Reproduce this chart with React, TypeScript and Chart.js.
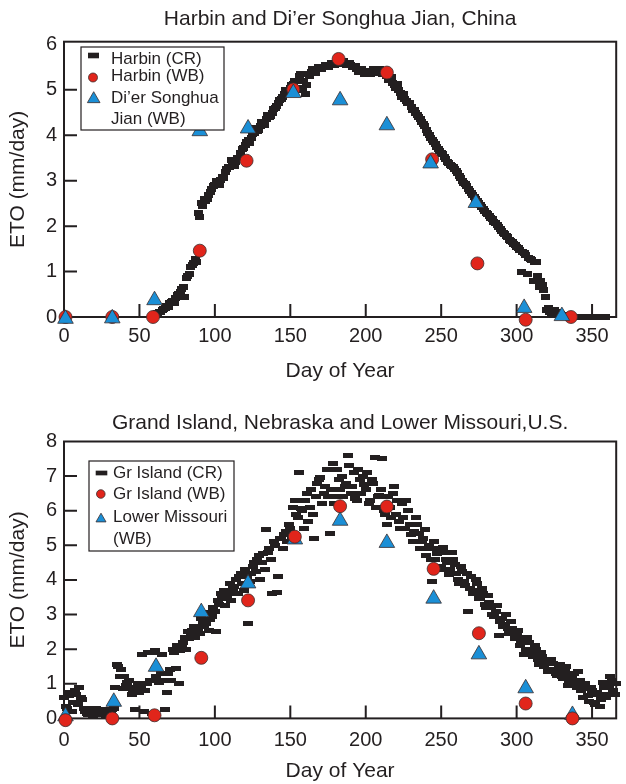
import { useEffect, useRef } from 'react';
import { Chart, registerables } from 'chart.js';

Chart.register(...registerables);

const FONT = '"Liberation Sans", Arial, Helvetica, sans-serif';
const INK = '#231f20';
const RED = '#e1251b';
const BLUE = '#1b8fd6';
const EDGE = '#3b2d2d';

// ---------- Top panel: Harbin and Di'er Songhua Jian ----------
const topTitle = 'Harbin and Di’er Songhua Jian, China';
// Harbin (CR), even days 60..358
const harbinCREvenStart = 60;
const harbinCREven = [
  0.02, 0.08, 0.12, 0.18, 0.25, 0.3, 0.35, 0.42, 0.5, 0.62,
  0.45, 0.9, 1.1, 1.18, 1.22, 2.2, 2.45, 2.55, 2.68, 2.82,
  2.9, 2.95, 3.02, 3.05, 3.25, 3.3, 3.38, 3.42, 3.5, 3.7,
  3.78, 3.9, 3.95, 4.05, 4.1, 4.2, 4.28, 4.35, 4.4, 4.48,
  4.6, 4.7, 4.8, 4.9, 5.0, 5.05, 5.12, 5.2, 5.3, 5.0,
  4.9, 5.35, 5.4, 5.42, 5.45, 5.48, 5.5, 5.52, 5.55, 5.58,
  5.6, 5.62, 5.62, 5.6, 5.58, 5.55, 5.5, 5.46, 5.42, 5.4,
  5.38, 5.38, 5.4, 5.42, 5.42, 5.4, 5.38, 5.3, 5.25, 5.15,
  5.05, 5.0, 4.85, 4.8, 4.72, 4.62, 4.55, 4.45, 4.35, 4.25,
  4.12, 4.0, 3.9, 3.8, 3.7, 3.62, 3.52, 3.42, 3.35, 3.3,
  3.22, 3.1, 3.0, 2.92, 2.82, 2.72, 2.64, 2.56, 2.46, 2.38,
  2.3, 2.22, 2.15, 2.06, 1.98, 1.9, 1.82, 1.75, 1.68, 1.6,
  1.55, 1.48, 1.42, 1.36, 1.3, 1.25, 1.22, 0.9, 0.8, 0.6,
  0.15, 0.1, 0.12, 0.05, 0.08, 0.02, 0.04, 0.0, 0.0, 0.0,
  0.0, 0.0, 0.0, 0.0, 0.0, 0.0, 0.0, 0.0, 0.0, 0.0,
];
// Harbin (CR), odd days 61..359
const harbinCROddStart = 61;
const harbinCROdd = [
  0.05, 0.1, 0.15, 0.2, 0.22, 0.32, 0.3, 0.48, 0.55, 0.66,
  0.85, 0.95, 1.15, 1.28, 2.3, 2.5, 2.6, 2.6, 2.75, 2.88,
  3.0, 2.9, 3.08, 3.2, 3.3, 3.45, 3.32, 3.5, 3.6, 3.72,
  3.85, 3.82, 4.02, 4.15, 4.12, 4.3, 4.22, 4.45, 4.42, 4.58,
  4.65, 4.78, 4.85, 5.0, 4.98, 5.1, 5.2, 5.05, 5.35, 5.2,
  5.1, 5.3, 5.45, 5.38, 5.5, 5.45, 5.55, 5.5, 5.6, 5.55,
  5.65, 5.58, 5.64, 5.55, 5.6, 5.5, 5.52, 5.4, 5.45, 5.35,
  5.42, 5.35, 5.45, 5.38, 5.45, 5.35, 5.38, 5.22, 5.28, 5.1,
  5.12, 4.92, 4.9, 4.75, 4.7, 4.55, 4.5, 4.4, 4.3, 4.2,
  4.05, 3.95, 3.85, 3.75, 3.65, 3.58, 3.48, 3.38, 3.32, 3.25,
  3.18, 3.05, 2.96, 2.88, 2.78, 2.68, 2.6, 2.5, 2.42, 2.34,
  2.26, 2.18, 2.1, 2.02, 1.94, 1.86, 1.78, 1.7, 1.64, 1.58,
  1.52, 1.0, 1.4, 0.95, 1.28, 0.8, 1.22, 0.65, 0.7, 0.45,
  0.2, 0.08, 0.15, 0.1, 0.06, 0.03, 0.02, 0.01, 0.0, 0.0,
  0.0, 0.0, 0.0, 0.0, 0.0, 0.0, 0.0, 0.0, 0.0, 0.0,
];
const harbinWBDays = [1, 32, 59, 90, 121, 152, 182, 214, 244, 274, 306, 336];
const harbinWB = [0, 0, 0, 1.46, 3.44, 5.01, 5.68, 5.38, 3.47, 1.18, -0.06, 0];
const dierWBDays = [1, 32, 60, 90, 122, 152, 183, 214, 243, 273, 305, 330];
const dierWB = [-0.04, -0.03, 0.37, 4.09, 4.15, 4.93, 4.77, 4.22, 3.38, 2.51, 0.2, 0.02];

// ---------- Bottom panel: Grand Island and Lower Missouri ----------
const bottomTitle = 'Grand Island, Nebraska and Lower Missouri,U.S.';
// Gr Island (CR), even days 0..366
const grIslandCREvenStart = 0;
const grIslandCREven = [
  0.6, 0.3, 0.75, 0.45, 0.7, 0.9, 0.55, 0.2, 0.1, 0.3,
  0.15, 0.2, 0.1, 0.2, 0.05, 0.15, 0.25, 0.9, 1.5, 1.4,
  1.2, 1.05, 0.85, 0.8, 0.9, 0.75, 1.85, 0.8, 1.9, 0.15,
  1.95, 1.1, 1.3, 1.1, 0.75, 1.4, 2.0, 1.45, 1.0, 2.1,
  2.35, 2.5, 2.4, 2.65, 2.6, 2.45, 2.8, 2.75, 2.55, 2.95,
  3.1, 3.4, 3.6, 3.7, 3.55, 3.9, 3.75, 4.0, 4.1, 3.9,
  4.3, 2.75, 4.2, 4.5, 4.6, 4.0, 4.75, 5.45, 4.9, 3.6,
  5.0, 4.1, 5.2, 5.3, 5.1, 5.5, 6.1, 5.9, 7.1, 6.0,
  6.3, 5.7, 6.6, 5.2, 6.8, 6.95, 6.5, 7.2, 5.35, 7.35,
  6.4, 6.9, 7.0, 6.7, 7.6, 6.5, 7.1, 6.3, 6.9, 7.0,
  6.6, 6.2, 6.9, 7.55, 6.4, 6.6, 6.0, 5.6, 6.1, 6.5,
  5.9, 5.7, 6.2, 5.5, 6.0, 5.3, 5.4, 5.6, 4.9, 5.2,
  4.7, 5.0, 3.95, 4.6, 4.9, 4.4, 4.8, 4.5, 4.3, 4.6,
  4.2, 3.9, 4.25, 3.85, 3.1, 4.1, 3.7, 3.9, 3.5, 3.6,
  3.2, 3.35, 3.0, 3.1, 2.4, 2.9, 2.7, 2.6, 2.8, 2.5,
  2.4, 2.1, 2.3, 2.0, 2.2, 1.9, 2.1, 1.7, 1.9, 1.5,
  1.7, 1.4, 1.6, 1.3, 1.45, 1.2, 1.35, 0.95, 1.1, 1.3,
  0.9, 1.1, 0.6, 0.85, 0.5, 0.8, 0.4, 0.7, 0.55, 0.9,
  0.7, 1.2, 0.8, 1.0,
];
// Gr Island (CR), odd days 1..365
const grIslandCROddStart = 1;
const grIslandCROdd = [
  0.35, 0.65, 0.2, 0.8, 0.4, 0.6, 0.3, 0.15, 0.25, 0.05,
  0.3, 0.1, 0.25, 0.1, 0.2, 0.1, 0.3, 1.55, 1.2, 0.85,
  0.95, 1.1, 0.7, 0.25, 1.0, 0.9, 0.2, 1.0, 1.1, 1.9,
  1.2, 1.05, 1.85, 0.25, 1.3, 1.1, 1.9, 2.1, 1.95, 2.2,
  2.0, 2.3, 2.55, 2.35, 2.5, 2.9, 2.65, 3.05, 2.85, 3.2,
  2.5, 3.3, 3.45, 3.25, 3.6, 3.4, 3.8, 3.6, 4.2, 3.7,
  4.1, 3.95, 4.4, 4.25, 4.7, 4.5, 4.3, 4.8, 4.6, 5.1,
  3.65, 5.2, 4.9, 5.4, 5.6, 5.25, 6.3, 5.8, 6.05, 5.5,
  6.5, 6.1, 5.9, 6.4, 6.9, 6.2, 6.7, 6.4, 6.6, 6.2,
  7.2, 6.6, 6.4, 6.8, 7.3, 6.7, 6.35, 7.2, 6.5, 6.75,
  7.1, 6.3, 6.8, 6.1, 6.45, 7.5, 5.9, 6.4, 5.8, 6.7,
  6.3, 5.5, 5.8, 6.3, 5.6, 5.1, 5.8, 5.35, 5.1, 5.45,
  4.9, 4.6, 5.1, 4.75, 4.3, 4.95, 4.6, 4.15, 4.8, 4.45,
  4.0, 4.4, 3.95, 4.2, 3.75, 3.6, 4.0, 3.45, 3.75, 3.3,
  3.55, 3.2, 2.95, 3.25, 2.8, 2.65, 3.0, 2.45, 2.6, 2.3,
  2.55, 2.25, 1.85, 2.35, 2.0, 1.8, 2.0, 1.55, 1.8, 1.6,
  1.35, 1.7, 1.4, 1.25, 1.55, 1.15, 1.5, 1.0, 1.25, 1.05,
  1.35, 0.8, 1.0, 0.65, 0.9, 0.45, 0.75, 0.35, 1.05, 0.6,
  0.95, 1.1, 0.7,
];
const grIslandWBDays = [1, 32, 60, 91, 122, 153, 183, 214, 245, 275, 306, 337];
const grIslandWB = [-0.05, 0, 0.09, 1.75, 3.41, 5.25, 6.13, 6.12, 4.32, 2.46, 0.43, 0];
const lowerMissouriWBDays = [1, 33, 61, 91, 122, 153, 183, 214, 245, 275, 306, 337];
const lowerMissouriWB = [0.06, 0.48, 1.49, 3.07, 3.9, 5.17, 5.71, 5.07, 3.46, 1.85, 0.87, 0.1];

const xTickStep = 50;
const xMax = 366;
const dayStep = 2;

type Marker = 'dash' | 'circle' | 'triangle';
interface LegendRow { marker?: Marker; mx?: number; my?: number; text: string; ty: number }
interface LegendSpec {
  box: [number, number, number, number];
  textX: number;
  dash: [number, number];
  circleR: number;
  triR: number;
  rows: LegendRow[];
}
interface Series { start: number; values: number[] }
interface PanelSpec {
  title: string;
  titlePad: { top: number; bottom: number };
  yMax: number;
  yTop: number;
  xScaleHeight: number;
  xTickPad: number;
  xTitlePad: number;
  cr: Series[];
  dash: [number, number];
  circles: { days: number[]; values: number[] };
  triangles: { days: number[]; values: number[] };
  trianglesOnTop: boolean;
  legend: LegendSpec;
}

function makeDash(w: number, h: number) {
  const c = document.createElement('canvas');
  c.width = w;
  c.height = h;
  const g = c.getContext('2d')!;
  g.fillStyle = INK;
  g.fillRect(0, 0, w, h);
  return c;
}

function drawTri(ctx: CanvasRenderingContext2D, cx: number, cy: number, r: number) {
  ctx.beginPath();
  for (let k = 0; k < 3; k++) {
    const a = -Math.PI / 2 + (k * 2 * Math.PI) / 3;
    const px = cx + r * Math.cos(a);
    const py = cy + r * Math.sin(a);
    if (k === 0) ctx.moveTo(px, py);
    else ctx.lineTo(px, py);
  }
  ctx.closePath();
  ctx.fillStyle = BLUE;
  ctx.fill();
  ctx.strokeStyle = EDGE;
  ctx.lineWidth = 0.8;
  ctx.stroke();
}

const framePlugin = {
  id: 'frame',
  beforeDatasetsDraw(chart: any) {
    const { ctx, chartArea } = chart;
    const { left, right, top, bottom } = chartArea;
    const xs = chart.scales.x;
    const ys = chart.scales.y;
    ctx.save();
    ctx.strokeStyle = INK;
    ctx.lineWidth = 2;
    ctx.strokeRect(left, top, right - left, bottom - top);
    ctx.beginPath();
    xs.ticks.forEach((t: any) => {
      if (t.value <= 0) return;
      const x = xs.getPixelForValue(t.value);
      ctx.moveTo(x, bottom);
      ctx.lineTo(x, bottom - 13);
    });
    ys.ticks.forEach((t: any) => {
      if (t.value <= 0 || t.value >= ys.max - 0.2) return;
      const y = ys.getPixelForValue(t.value);
      ctx.moveTo(left, y);
      ctx.lineTo(left + 13, y);
    });
    ctx.stroke();
    ctx.restore();
  },
};

const legendBoxPlugin = {
  id: 'legendBox',
  afterDraw(chart: any, _args: any, opts: any) {
    const spec: LegendSpec = opts.spec;
    if (!spec) return;
    const { ctx } = chart;
    ctx.save();
    const [bx, by, bw, bh] = spec.box;
    ctx.fillStyle = '#ffffff';
    ctx.fillRect(bx, by, bw, bh);
    ctx.strokeStyle = INK;
    ctx.lineWidth = 1.2;
    ctx.strokeRect(bx, by, bw, bh);
    spec.rows.forEach((row) => {
      if (row.marker === 'dash') {
        ctx.fillStyle = INK;
        ctx.fillRect(row.mx! - spec.dash[0] / 2, row.my! - spec.dash[1] / 2, spec.dash[0], spec.dash[1]);
      } else if (row.marker === 'circle') {
        ctx.beginPath();
        ctx.arc(row.mx!, row.my!, spec.circleR, 0, Math.PI * 2);
        ctx.fillStyle = RED;
        ctx.fill();
        ctx.strokeStyle = EDGE;
        ctx.lineWidth = 0.8;
        ctx.stroke();
      } else if (row.marker === 'triangle') {
        drawTri(ctx, row.mx!, row.my!, spec.triR);
      }
      ctx.fillStyle = INK;
      ctx.font = `17px ${FONT}`;
      ctx.textAlign = 'left';
      ctx.textBaseline = 'middle';
      ctx.fillText(row.text, spec.textX, row.ty);
    });
    ctx.restore();
  },
};

function buildConfig(p: PanelSpec): any {
  const crPoints = p.cr.flatMap((s) => s.values.map((v, i) => ({ x: s.start + i * dayStep, y: v })));
  const circlePoints = p.circles.days.map((d, i) => ({ x: d, y: p.circles.values[i] }));
  const triPoints = p.triangles.days.map((d, i) => ({ x: d, y: p.triangles.values[i] }));
  const circleDs = {
    label: 'WB circle',
    data: circlePoints,
    pointStyle: 'circle',
    pointRadius: 6.5,
    backgroundColor: RED,
    borderColor: EDGE,
    borderWidth: 0.8,
    clip: false,
  };
  const triDs = {
    label: 'WB triangle',
    data: triPoints,
    pointStyle: 'triangle',
    pointRadius: 9,
    backgroundColor: BLUE,
    borderColor: EDGE,
    borderWidth: 0.8,
    clip: false,
  };
  const crDs = {
    label: 'CR',
    data: crPoints,
    pointStyle: makeDash(p.dash[0], p.dash[1]),
    pointRadius: 4,
    backgroundColor: INK,
    borderColor: INK,
    clip: false,
  };
  const datasets = p.trianglesOnTop ? [triDs, circleDs, crDs] : [circleDs, triDs, crDs];
  const tickFont = { family: FONT, size: 20 };
  const titleFont = { family: FONT, size: 21, weight: 'normal' as const };
  return {
    type: 'scatter',
    data: { datasets },
    plugins: [framePlugin, legendBoxPlugin],
    options: {
      responsive: false,
      animation: false,
      events: [],
      layout: { padding: { left: 0, right: 6, top: 0, bottom: 0 } },
      plugins: {
        legend: { display: false },
        tooltip: { enabled: false },
        title: {
          display: true,
          fullSize: false,
          text: p.title,
          color: INK,
          font: titleFont,
          padding: p.titlePad,
        },
        legendBox: { spec: p.legend },
      },
      scales: {
        x: {
          type: 'linear',
          min: 0,
          max: xMax,
          grid: { display: false, drawTicks: false },
          border: { display: false },
          ticks: {
            stepSize: xTickStep,
            includeBounds: false,
            color: INK,
            font: tickFont,
            padding: p.xTickPad,
            maxRotation: 0,
          },
          title: {
            display: true,
            text: 'Day of Year',
            color: INK,
            font: titleFont,
            padding: { top: 0, bottom: p.xTitlePad },
          },
          afterFit: (s: any) => {
            s.height = p.xScaleHeight;
          },
        },
        y: {
          type: 'linear',
          min: 0,
          max: p.yMax,
          grid: { display: false, drawTicks: false },
          border: { display: false },
          ticks: {
            stepSize: 1,
            includeBounds: false,
            color: INK,
            font: tickFont,
            padding: 7,
          },
          afterBuildTicks: (s: any) => {
            s.ticks = s.ticks.filter((t: any) => Number.isInteger(t.value) && t.value <= p.yTop);
          },
          title: {
            display: true,
            text: 'ETO (mm/day)',
            color: INK,
            font: titleFont,
            padding: { top: 5.4, bottom: 0 },
          },
          afterFit: (s: any) => {
            s.width = 64;
          },
        },
      },
    },
  };
}

const topPanel: PanelSpec = {
  title: topTitle,
  titlePad: { top: 6.9, bottom: 9.6 },
  yMax: 6.06,
  yTop: 6,
  xScaleHeight: 75,
  xTickPad: 7.7,
  xTitlePad: 7.7,
  cr: [
    { start: harbinCREvenStart, values: harbinCREven },
    { start: harbinCROddStart, values: harbinCROdd },
  ],
  dash: [9, 6],
  circles: { days: harbinWBDays, values: harbinWB },
  triangles: { days: dierWBDays, values: dierWB },
  trianglesOnTop: true,
  legend: {
    box: [81, 47, 143, 83],
    textX: 111,
    dash: [11, 5.6],
    circleR: 4.5,
    triR: 7.3,
    rows: [
      { marker: 'dash', mx: 93.5, my: 55.5, text: 'Harbin (CR)', ty: 59.5 },
      { marker: 'circle', mx: 93, my: 77.5, text: 'Harbin (WB)', ty: 76.5 },
      { marker: 'triangle', mx: 93.7, my: 99, text: 'Di’er Songhua', ty: 98 },
      { text: 'Jian (WB)', ty: 119.5 },
    ],
  },
};

const bottomPanel: PanelSpec = {
  title: bottomTitle,
  titlePad: { top: 18.7, bottom: 5.6 },
  yMax: 8,
  yTop: 8,
  xScaleHeight: 65.6,
  xTickPad: 9.6,
  xTitlePad: 0,
  cr: [
    { start: grIslandCREvenStart, values: grIslandCREven },
    { start: grIslandCROddStart, values: grIslandCROdd },
  ],
  dash: [10, 5],
  circles: { days: grIslandWBDays, values: grIslandWB },
  triangles: { days: lowerMissouriWBDays, values: lowerMissouriWB },
  trianglesOnTop: false,
  legend: {
    box: [89, 69, 145, 90],
    textX: 113,
    dash: [11.6, 4.7],
    circleR: 4.3,
    triR: 5.8,
    rows: [
      { marker: 'dash', mx: 101.5, my: 81, text: 'Gr Island (CR)', ty: 81.5 },
      { marker: 'circle', mx: 100.8, my: 102, text: 'Gr Island (WB)', ty: 102.5 },
      { marker: 'triangle', mx: 101, my: 127, text: 'Lower Missouri', ty: 125 },
      { text: '(WB)', ty: 147 },
    ],
  },
};

function Panel({ spec }: { spec: PanelSpec }) {
  const ref = useRef<HTMLCanvasElement>(null);
  useEffect(() => {
    const chart = new Chart(ref.current!, buildConfig(spec));
    return () => chart.destroy();
  }, [spec]);
  return (
    <canvas
      ref={ref}
      width={626}
      height={392}
      style={{ display: 'block', width: 626, height: 392 }}
    />
  );
}

export default function App() {
  return (
    <div style={{ position: 'absolute', left: 0, top: 0, width: 626, height: 784, background: '#fff' }}>
      <Panel spec={topPanel} />
      <Panel spec={bottomPanel} />
    </div>
  );
}
